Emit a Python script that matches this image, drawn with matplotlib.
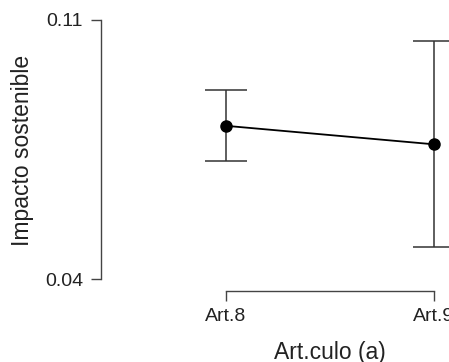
import numpy as np
import matplotlib
matplotlib.use("Agg")
import matplotlib.pyplot as plt

plt.rcParams['font.family'] = ['Liberation Sans', 'DejaVu Sans']

# datos
categorias = ['Art.8', 'Art.9']
medias = [0.0814, 0.0764]
lim_inf = [0.0718, 0.0486]
lim_sup = [0.0910, 0.1042]
y_ticks = [0.04, 0.11]
y_labels = ['0.04', '0.11']

W, H = 449, 362
fig = plt.figure(figsize=(W / 100, H / 100), dpi=100)

# ejes en pixeles: izquierda 101, abajo 291, derecha 559, arriba 10
ax = fig.add_axes([101 / W, 1 - 291 / H, (559 - 101) / W, (291 - 10) / H])

x = np.arange(len(categorias))
medias = np.array(medias)
err = [medias - np.array(lim_inf), np.array(lim_sup) - medias]

ax.errorbar(x, medias, yerr=err, fmt='none', ecolor='#333333',
            elinewidth=1.1, capsize=15, capthick=1.1, zorder=2)
ax.plot(x, medias, color='black', lw=1.3, marker='o', ms=8, zorder=3)

ax.set_xlim(-0.601, 1.601)
ax.set_ylim(0.03676, 0.1127)

ax.set_xticks(x)
ax.set_xticklabels(categorias)
ax.set_yticks(y_ticks)
ax.set_yticklabels(y_labels)

for s in ['top', 'right']:
    ax.spines[s].set_visible(False)
ax.spines['left'].set_bounds(0.04, 0.11)
ax.spines['bottom'].set_bounds(0, 1)
for s in ['left', 'bottom']:
    ax.spines[s].set_color('#444444')
    ax.spines[s].set_linewidth(1.0)

ax.tick_params(axis='both', colors='#444444', length=7, width=1.0,
               labelsize=14, labelcolor='#222222')
ax.tick_params(axis='y', pad=6)
ax.tick_params(axis='x', pad=5)

ax.set_ylabel('Impacto sostenible', fontsize=16.5, color='#222222', va='center')
ax.set_xlabel('Art.culo (a)', fontsize=16.5, color='#222222', va='center')
ax.yaxis.set_label_coords(-(101 - 23) / (559 - 101), 0.5)
ax.xaxis.set_label_coords(0.5, -(353 - 291) / (291 - 10))

fig.savefig('out.png', dpi=100)
